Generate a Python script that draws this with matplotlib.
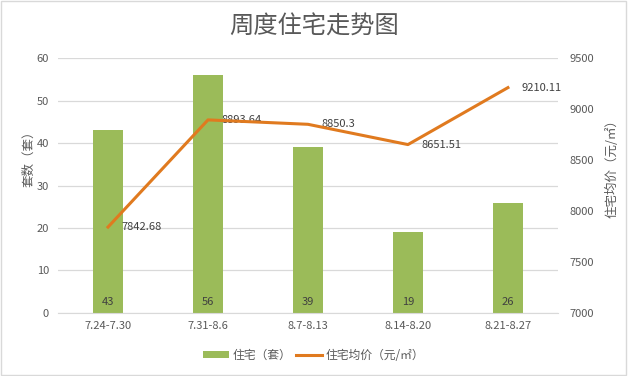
import matplotlib.pyplot as plt
import numpy as np

plt.rcParams['font.family'] = ['Noto Sans CJK SC', 'DejaVu Sans']

weeks = ['7.24-7.30', '7.31-8.6', '8.7-8.13', '8.14-8.20', '8.21-8.27']
units = [43, 56, 39, 19, 26]
prices = [7842.68, 8893.64, 8850.3, 8651.51, 9210.11]

grey = '#595959'
bar_color = '#9BBB59'
line_color = '#E07A1F'

fig = plt.figure(figsize=(6.28, 3.76), dpi=100)
ax = fig.add_axes([0.0924, 0.1676, 0.796, 0.678])
ax2 = ax.twinx()

x = np.arange(len(weeks))
bars = ax.bar(x, units, width=0.3, color=bar_color, label='住宅（套）', zorder=2)
for xi, v in zip(x, units):
    ax.text(xi, 1.5, str(v), ha='center', va='bottom', fontsize=8, color='#404040', zorder=3)

ln, = ax2.plot(x, prices, color=line_color, lw=2.2, label='住宅均价（元/㎡）', zorder=4)
for xi, p in zip(x, prices):
    ax2.annotate(f'{p:g}', (xi, p), xytext=(10, 0), textcoords='offset points',
                 ha='left', va='center', fontsize=8, color='#404040')

ax.set_xlim(-0.5, 4.5)
ax.set_ylim(0, 60)
ax.set_yticks(range(0, 61, 10))
ax2.set_ylim(7000, 9500)
ax2.set_yticks(range(7000, 9501, 500))
ax.set_xticks(x)
ax.set_xticklabels(weeks)

ax.grid(axis='y', color='#D9D9D9', lw=0.9, zorder=0)
ax.set_axisbelow(True)
for a in (ax, ax2):
    for s in a.spines.values():
        s.set_visible(False)
    a.tick_params(length=0, labelsize=8, colors=grey)
ax.tick_params(axis='y', pad=6.5)
ax2.tick_params(axis='y', pad=8)
ax.tick_params(axis='x', pad=6)
ax.spines['bottom'].set_visible(True)
ax.spines['bottom'].set_color('#D9D9D9')

ax.set_ylabel('套数（套）', fontsize=9, color=grey)
ax.yaxis.set_label_coords(-0.046, 0.615)
ax2.set_ylabel('住宅均价（元/㎡）', fontsize=9, color=grey, rotation=90)
ax2.yaxis.set_label_coords(1.094, 0.58)

fig.text(0.5, 0.93, '周度住宅走势图', ha='center', va='center', fontsize=17.5, color=grey)

fig.legend([bars, ln], ['住宅（套）', '住宅均价（元/㎡）'], loc='center', bbox_to_anchor=(0.50, 0.055),
           ncol=2, frameon=False, fontsize=8.5, labelcolor=grey, handlelength=2.2,
           handleheight=0.6, columnspacing=0.4, handletextpad=0.3)

fig.patches.append(plt.Rectangle((0.002, 0.003), 0.995, 0.994, transform=fig.transFigure,
                                 fill=False, edgecolor='#D9D9D9', lw=1))

fig.savefig('out.png', dpi=100)
